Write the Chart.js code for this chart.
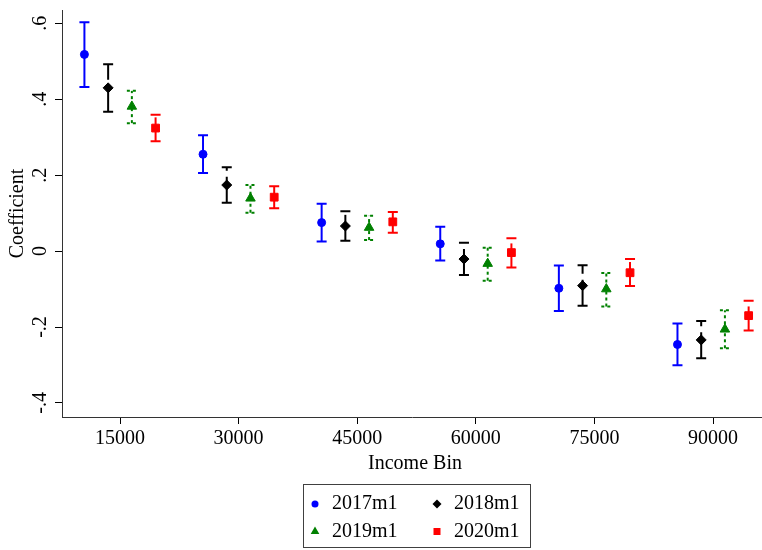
<!DOCTYPE html>
<html><head><meta charset="utf-8">
<script src="https://cdn.jsdelivr.net/npm/chart.js@4/dist/chart.umd.min.js"></script>
<style>html,body{margin:0;padding:0;background:#fff}#wrap{width:762px;height:550px}</style>
</head><body><div id="wrap"><canvas id="c" width="762" height="550"></canvas></div>
<script>
// ---- data ----
const incomeBins = [15000, 30000, 45000, 60000, 75000, 90000];
const xTickLabels = ['15000', '30000', '45000', '60000', '75000', '90000'];
const yTickValues = [-0.4, -0.2, 0, 0.2, 0.4, 0.6];
const yTickLabels = ['-.4', '-.2', '0', '.2', '.4', '.6'];
const seriesNames = ['2017m1', '2018m1', '2019m1', '2020m1'];
const seriesOffsets = [-4500, -1500, 1500, 4500];

const coef2017 = [0.518, 0.255, 0.075, 0.019, -0.098, -0.246];
const lo2017   = [0.432, 0.206, 0.025, -0.025, -0.158, -0.301];
const hi2017   = [0.603, 0.305, 0.125, 0.064, -0.038, -0.191];

const coef2018 = [0.430, 0.174, 0.066, -0.021, -0.091, -0.234];
const lo2018   = [0.367, 0.127, 0.027, -0.063, -0.144, -0.282];
const hi2018   = [0.492, 0.221, 0.105, 0.022, -0.037, -0.184];

const coef2019 = [0.381, 0.139, 0.062, -0.033, -0.100, -0.206];
const lo2019   = [0.337, 0.101, 0.029, -0.078, -0.146, -0.256];
const hi2019   = [0.422, 0.174, 0.093, 0.009, -0.058, -0.156];

const coef2020 = [0.324, 0.142, 0.077, -0.004, -0.057, -0.170];
const lo2020   = [0.289, 0.113, 0.048, -0.043, -0.092, -0.209];
const hi2020   = [0.359, 0.171, 0.103, 0.034, -0.021, -0.131];

// ---- styles ----
const FONT = 'Liberation Serif';
const colors = ['#0000ff', '#000000', '#008000', '#ff0000'];
const pointStyles = ['circle', 'rectRot', 'triangle', 'rect'];
const pointRadii = [4, 5, 5.5, 5.5];
const dashes = [[], [26, 6], [3, 3], [24, 6]];
const coefs = [coef2017, coef2018, coef2019, coef2020];
const los = [lo2017, lo2018, lo2019, lo2020];
const his = [hi2017, hi2018, hi2019, hi2020];

const datasets = seriesNames.map((name, i) => ({
  label: name,
  data: incomeBins.map((b, j) => ({ x: b + seriesOffsets[i], y: coefs[i][j] })),
  backgroundColor: colors[i],
  borderColor: colors[i],
  borderWidth: 1,
  pointStyle: pointStyles[i],
  pointRadius: pointRadii[i],
  pointHoverRadius: pointRadii[i],
  showLine: false
}));

const errorBars = {
  id: 'errorBars',
  beforeDatasetsDraw(chart) {
    const { ctx, scales: { x, y } } = chart;
    ctx.save();
    seriesNames.forEach((n, i) => {
      ctx.strokeStyle = colors[i];
      ctx.lineWidth = 2;
      ctx.setLineDash(dashes[i]);
      incomeBins.forEach((b, j) => {
        const px = x.getPixelForValue(b + seriesOffsets[i]);
        const yl = y.getPixelForValue(los[i][j]);
        const yh = y.getPixelForValue(his[i][j]);
        const cw = 5;
        ctx.beginPath();
        ctx.moveTo(px, yl); ctx.lineTo(px, yh);
        ctx.stroke();
        ctx.beginPath();
        ctx.moveTo(px - cw, yh); ctx.lineTo(px + cw, yh);
        ctx.moveTo(px - cw, yl); ctx.lineTo(px + cw, yl);
        ctx.stroke();
      });
    });
    ctx.restore();
  }
};

function drawMarker(ctx, style, x, y, r, color) {
  ctx.fillStyle = color;
  ctx.beginPath();
  if (style === 'circle') ctx.arc(x, y, r, 0, Math.PI * 2);
  else if (style === 'rectRot') { ctx.moveTo(x, y - r); ctx.lineTo(x + r, y); ctx.lineTo(x, y + r); ctx.lineTo(x - r, y); ctx.closePath(); }
  else if (style === 'triangle') { ctx.moveTo(x, y - r); ctx.lineTo(x + r * 0.866, y + r * 0.5); ctx.lineTo(x - r * 0.866, y + r * 0.5); ctx.closePath(); }
  else { ctx.rect(x - r, y - r, 2 * r, 2 * r); }
  ctx.fill();
}

const annotations = {
  id: 'annotations',
  afterDraw(chart) {
    const { ctx, scales: { x, y }, chartArea } = chart;
    ctx.save();
    ctx.fillStyle = '#000';
    ctx.font = '20px "' + FONT + '"';
    // y tick labels (rotated)
    yTickValues.forEach((v, k) => {
      const py = y.getPixelForValue(v);
      ctx.save();
      ctx.translate(41, py);
      ctx.rotate(-Math.PI / 2);
      ctx.textAlign = 'center';
      ctx.textBaseline = 'middle';
      ctx.fillText(yTickLabels[k], 0, 0);
      ctx.restore();
    });
    // y title
    ctx.save();
    ctx.translate(18, (chartArea.top + chartArea.bottom) / 2);
    ctx.rotate(-Math.PI / 2);
    ctx.textAlign = 'center';
    ctx.textBaseline = 'middle';
    ctx.fillText('Coefficient', 0, 0);
    ctx.restore();
    // x title
    ctx.textAlign = 'center';
    ctx.textBaseline = 'middle';
    ctx.fillText('Income Bin', 415, 464);
    // legend
    ctx.strokeStyle = '#404040';
    ctx.lineWidth = 1;
    ctx.strokeRect(303.5, 484.5, 227, 63);
    const pos = [[315, 504], [437, 504], [315, 531.5], [437, 531.5]];
    const lr = [3.5, 4.5, 5, 3.5];
    seriesNames.forEach((n, i) => {
      drawMarker(ctx, pointStyles[i], pos[i][0], pos[i][1], lr[i], colors[i]);
      ctx.fillStyle = '#000';
      ctx.textAlign = 'left';
      ctx.textBaseline = 'middle';
      ctx.fillText(n, pos[i][0] + 17, pos[i][1]);
    });
    ctx.restore();
  }
};

new Chart(document.getElementById('c'), {
  type: 'scatter',
  data: { datasets },
  options: {
    responsive: false,
    animation: false,
    devicePixelRatio: 1,
    layout: { autoPadding: false, padding: { top: 10, right: 0, left: 0, bottom: 0 } },
    plugins: { legend: { display: false }, tooltip: { enabled: false } },
    scales: {
      x: {
        type: 'linear', position: 'bottom', min: 7665, max: 96190,
        afterFit: s => { s.height = 133; s.paddingLeft = 0; s.paddingRight = 0; },
        afterBuildTicks: s => { s.ticks = incomeBins.map(v => ({ value: v })); },
        ticks: { callback: (v, i) => xTickLabels[i], font: { family: FONT, size: 20 }, color: '#000', padding: 3, maxRotation: 0, autoSkip: false },
        grid: { drawOnChartArea: false, drawTicks: true, tickLength: 7, color: '#000', tickColor: '#000' },
        border: { display: true, color: '#333', width: 1 }
      },
      y: {
        type: 'linear', min: -0.437, max: 0.635,
        afterFit: s => { s.width = 62; s.paddingTop = 0; s.paddingBottom = 0; },
        afterBuildTicks: s => { s.ticks = yTickValues.map(v => ({ value: v })); },
        ticks: { display: false },
        grid: { drawOnChartArea: false, drawTicks: true, tickLength: 7, color: '#000', tickColor: '#000' },
        border: { display: true, color: '#333', width: 1 }
      }
    }
  },
  plugins: [errorBars, annotations]
});
</script>
</body></html>
